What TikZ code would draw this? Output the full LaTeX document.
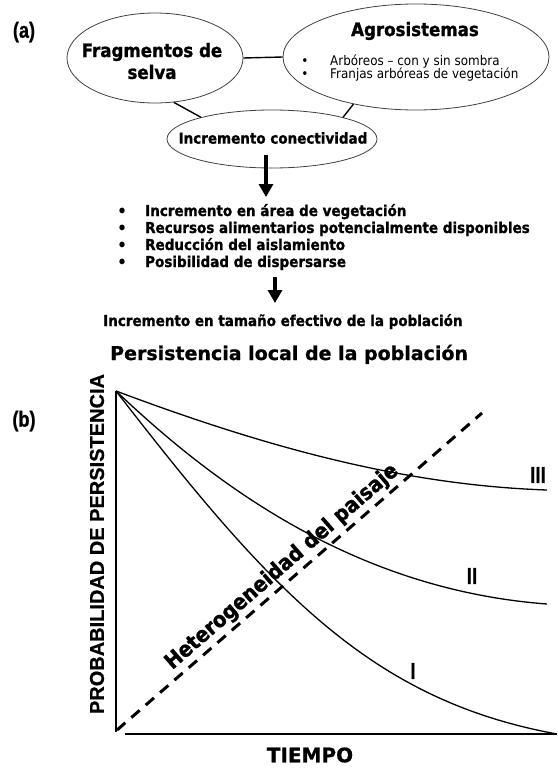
\documentclass[tikz,border=0pt]{standalone}
\usepackage{fontspec}
\setmainfont{DejaVu Sans}
\newfontfamily\tah[FakeStretch=0.9, BoldFeatures={FakeBold=1.2}]{DejaVu Sans}
\newfontfamily\verd[BoldFeatures={FakeBold=0.8}]{DejaVu Sans}
\newfontfamily\arl[BoldFeatures={FakeBold=0.6}]{Liberation Sans}
\newfontfamily\arn[FakeStretch=0.82, BoldFeatures={FakeBold=0.8}]{Liberation Sans}
\usetikzlibrary{arrows.meta,shapes.geometric}
\begin{document}
\begin{tikzpicture}[x=1pt,y=-1pt,
  ell/.style={draw=black!75, line width=0.8pt, ellipse, inner sep=0pt},
  conn/.style={line width=1.4pt},
  bigarrow/.style={line width=3.6pt, -{Triangle[width=14pt,length=13pt]}},
  tx/.style={inner sep=0pt, font=\tah\bfseries\fontsize{15}{17}\selectfont},
  bigtx/.style={inner sep=0pt, font=\tah\bfseries\fontsize{18.5}{21}\selectfont},
  smalltx/.style={inner sep=0pt, font=\tah\fontsize{13.3}{15}\selectfont},
  lab/.style={inner sep=0pt, font=\arl\bfseries\fontsize{20}{22}\selectfont},
  panel/.style={inner sep=0pt, font=\arn\bfseries\fontsize{22}{24}\selectfont},
  roman/.style={inner sep=0pt, font=\arn\bfseries\fontsize{23}{25}\selectfont},
  curve/.style={line width=1.3pt},
  axis/.style={line width=2.2pt}
]
\useasboundingbox (0,0) rectangle (557,771);

% ---------- (a) ----------
\node[panel] (la) at (24,32) {(a)};

\node[ell, minimum width=176pt, minimum height=90pt] (frag) at (155,58) {};
\node[bigtx] (frag1) at (152,52) {Fragmentos de};
\node[bigtx] (frag2) at (152,72) {selva};

\node[ell, minimum width=266pt, minimum height=106pt] (agro) at (416,57) {};
\node[bigtx] (agrot) at (415,31) {Agrosistemas};
\node[smalltx, anchor=base] (b1) at (305,65) {•};
\node[smalltx, anchor=base west] (ag1) at (330,65) {Arbóreos – con y sin sombra};
\node[smalltx, anchor=base] (b2) at (305,78) {•};
\node[smalltx, anchor=base west] (ag2) at (330,78) {Franjas arbóreas de vegetación};

\node[ell, minimum width=210pt, minimum height=58pt] (inc) at (272,139) {};
\node[tx] (inct) at (273,138) {Incremento conectividad};

\draw[conn] (frag.east) -- (agro.west);
\draw[conn] (frag.-67) -- (inc.163);
\draw[conn] (agro.217) -- (inc.17);

\coordinate (a1s) at (266,155);
\coordinate (a1e) at (266,197);
\draw[bigarrow] (a1s) -- (a1e);

\node[tx, anchor=base] (l1b) at (122,216) {•};
\node[tx, anchor=base west] (l1) at (145,216) {Incremento en área de vegetación};
\node[tx, anchor=base] (l2b) at (122,233) {•};
\node[tx, anchor=base west] (l2) at (145,233) {Recursos alimentarios potencialmente disponibles};
\node[tx, anchor=base] (l3b) at (122,250) {•};
\node[tx, anchor=base west] (l3) at (145,250) {Reducción del aislamiento};
\node[tx, anchor=base] (l4b) at (122,267) {•};
\node[tx, anchor=base west] (l4) at (145,267) {Posibilidad de dispersarse};

\coordinate (a2s) at (275,277);
\coordinate (a2e) at (275,303);
\draw[bigarrow] (a2s) -- (a2e);

\node[tx, anchor=base west] (pop) at (103,326) {Incremento en tamaño efectivo de la población};

\node[inner sep=0pt, anchor=base west, font=\verd\bfseries\fontsize{19}{21}\selectfont] (pers) at (110,360) {Persistencia local de la población};

% ---------- (b) ----------
\node[panel] (lb) at (24,421) {(b)};

\coordinate (O) at (116,391);
\coordinate (Yb) at (116,732);
\coordinate (Xl) at (125,734);
\coordinate (Xr) at (557,734);
\draw[axis] (O) -- (Yb);
\draw[axis] (Xl) -- (Xr);

\node[lab, rotate=90] (ylab) at (97,544) {PROBABILIDAD DE PERSISTENCIA};
\node[inner sep=0pt, font=\verd\bfseries\fontsize{20}{22}\selectfont] (xlab) at (310,755) {TIEMPO};

\coordinate (d1) at (117,730);
\coordinate (d2) at (482,413);
\draw[line width=3pt, dash pattern=on 11pt off 8pt] (d1) -- (d2);
\node[inner sep=0pt, rotate=41, font=\tah\bfseries\fontsize{21.5}{23}\selectfont] (het) at (282,567) {Heterogeneidad del paisaje};

\coordinate (e3) at (547,490);
\coordinate (e2) at (547,604);
\coordinate (e1) at (557,734);
\draw[curve] (O) .. controls (260,445) and (400,485) .. (e3);
\draw[curve] (O) .. controls (220,490) and (360,590) .. (e2);
\draw[curve] (O) .. controls (270,590) and (370,700) .. (e1);

\node[roman] (r3) at (538,475) {III};
\node[roman] (r2) at (472,576) {II};
\node[roman] (r1) at (413,671) {I};
\end{tikzpicture}
\end{document}
